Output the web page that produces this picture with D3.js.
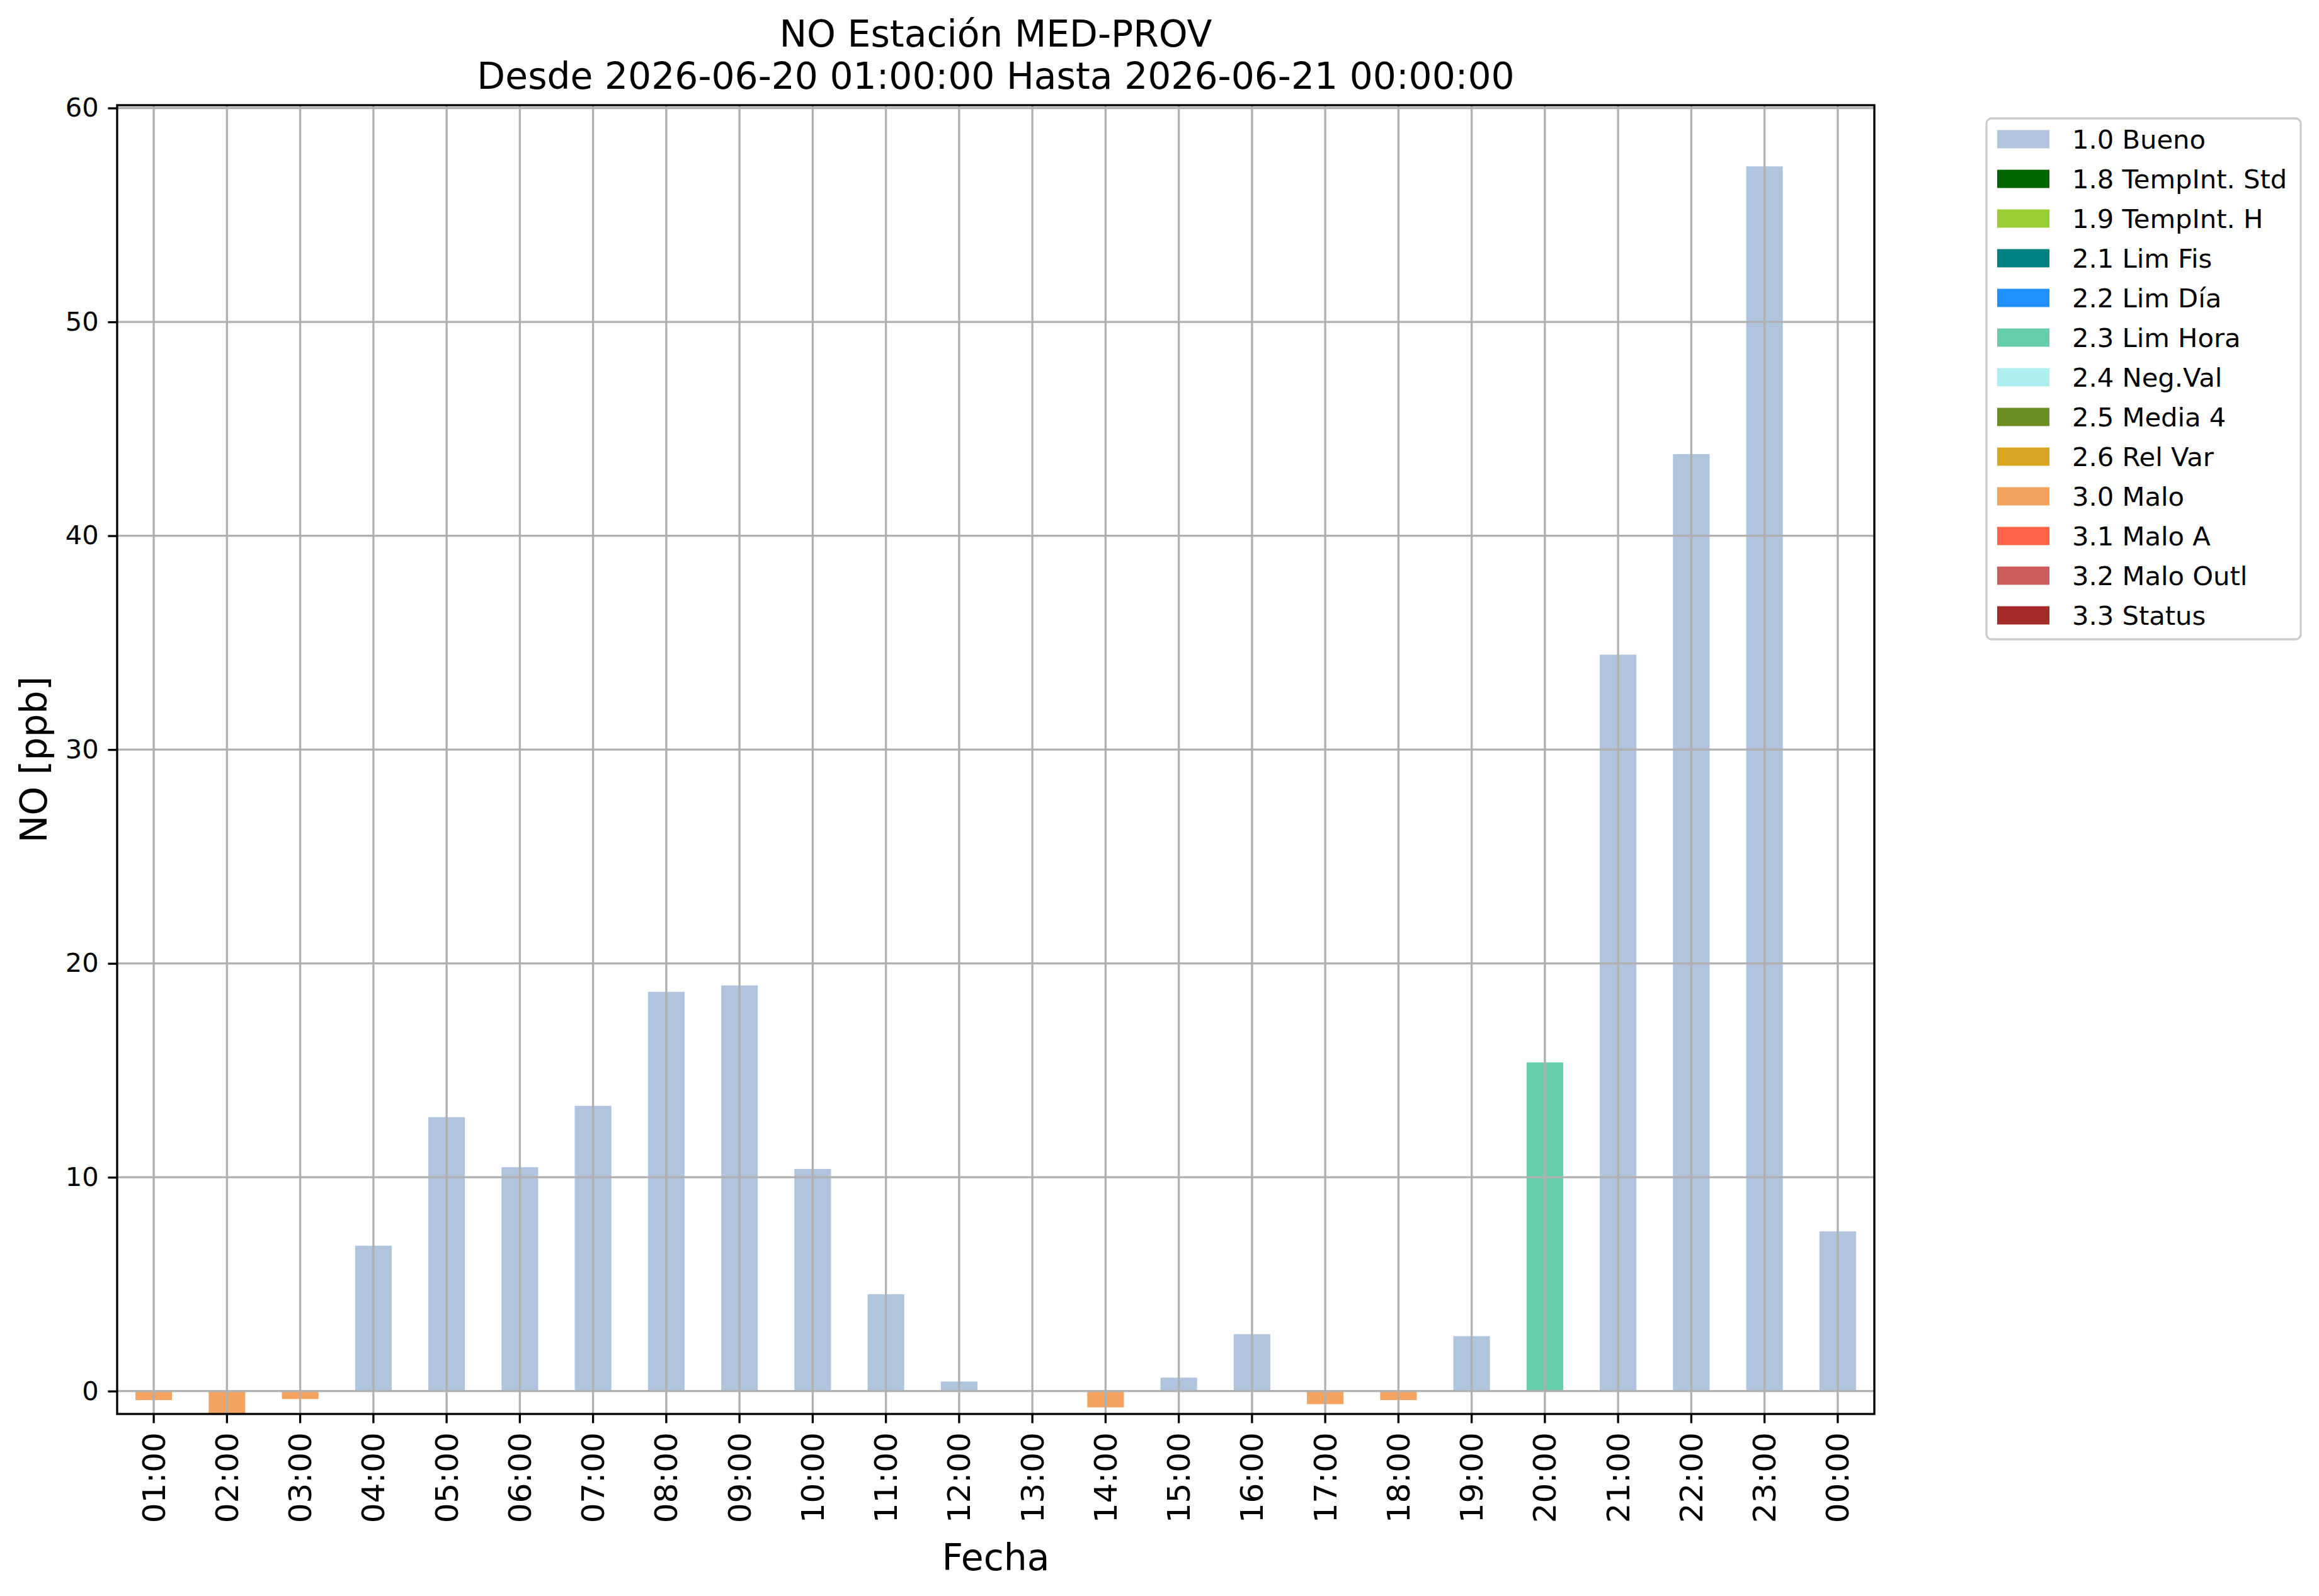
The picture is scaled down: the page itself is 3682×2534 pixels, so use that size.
<!DOCTYPE html>
<html>
<head>
<meta charset="utf-8">
<script src="https://cdn.jsdelivr.net/npm/d3@7"></script>
<style>
  body { margin: 0; background: #fff; }
  text { font-family: "DejaVu Sans", sans-serif; }
</style>
</head>
<body>
<div id="chart"></div>
<script>
// Hours on the x axis
const hours = ["01:00", "02:00", "03:00", "04:00", "05:00", "06:00", "07:00", "08:00",
               "09:00", "10:00", "11:00", "12:00", "13:00", "14:00", "15:00", "16:00",
               "17:00", "18:00", "19:00", "20:00", "21:00", "22:00", "23:00", "00:00"];

// NO values [ppb] (13:00 has no bar)
const values = [-0.42, -1.07, -0.37, 6.80, 12.81, 10.47, 13.34, 18.67,
                18.97, 10.39, 4.53, 0.45, null, -0.76, 0.63, 2.66,
                -0.61, -0.42, 2.57, 15.37, 34.44, 43.82, 57.27, 7.47];

// Quality flag of each hour
const flags = ["3.0", "3.0", "3.0", "1.0", "1.0", "1.0", "1.0", "1.0",
               "1.0", "1.0", "1.0", "1.0", null, "3.0", "1.0", "1.0",
               "3.0", "3.0", "1.0", "2.3", "1.0", "1.0", "1.0", "1.0"];

// Legend: flag codes, names and colours
const flagCodes = ["1.0", "1.8", "1.9", "2.1", "2.2", "2.3", "2.4", "2.5", "2.6", "3.0", "3.1", "3.2", "3.3"];
const flagNames = ["Bueno", "TempInt. Std", "TempInt. H", "Lim Fis", "Lim Día", "Lim Hora",
                   "Neg.Val", "Media 4", "Rel Var", "Malo", "Malo A", "Malo Outl", "Status"];
const flagColors = ["lightsteelblue", "darkgreen", "yellowgreen", "teal", "dodgerblue",
                    "mediumaquamarine", "paleturquoise", "olivedrab", "goldenrod",
                    "sandybrown", "tomato", "indianred", "brown"];

const yTicks = [0, 10, 20, 30, 40, 50, 60];

const width = 3682, height = 2534;
const margin = { top: 167, right: 706, bottom: 289, left: 186 };
const plotLeft = margin.left, plotRight = width - margin.right;
const plotTop = margin.top, plotBottom = height - margin.bottom;

const pt = 300 / 72;      // one point in pixels
const lw = 0.8 * pt;      // line width
const tickLen = 3.5 * pt;

const barData = hours.map((h, i) => ({ hour: h, value: values[i], flag: flags[i] }))
    .filter(d => d.value !== null);

const svg = d3.select("#chart").append("svg")
    .attr("width", width)
    .attr("height", height);

// Scales
const x = d3.scaleBand()
    .domain(hours)
    .range([plotLeft, plotRight])
    .paddingInner(0.5)
    .paddingOuter(0.25);

const y = d3.scaleLinear()
    .domain([d3.min(values), d3.max(values) * 1.05])
    .range([plotBottom, plotTop]);

const color = d3.scaleOrdinal()
    .domain(flagCodes)
    .range(flagColors);

// Bars
svg.append("g")
    .selectAll("rect")
    .data(barData)
    .enter()
    .append("rect")
    .attr("x", d => x(d.hour))
    .attr("y", d => y(Math.max(0, d.value)))
    .attr("width", x.bandwidth())
    .attr("height", d => Math.abs(y(d.value) - y(0)))
    .attr("fill", d => color(d.flag));

// Grid (drawn above bars, like the original)
const grid = svg.append("g")
    .attr("stroke", "#b0b0b0")
    .attr("stroke-width", lw);

grid.selectAll("line.v")
    .data(hours)
    .enter()
    .append("line")
    .attr("x1", d => x(d) + x.bandwidth() / 2)
    .attr("x2", d => x(d) + x.bandwidth() / 2)
    .attr("y1", plotTop)
    .attr("y2", plotBottom);

grid.selectAll("line.h")
    .data(yTicks)
    .enter()
    .append("line")
    .attr("x1", plotLeft)
    .attr("x2", plotRight)
    .attr("y1", d => y(d))
    .attr("y2", d => y(d));

// X-axis
const xAxis = svg.append("g")
    .attr("transform", `translate(0,${plotBottom})`)
    .call(d3.axisBottom(x).tickSize(tickLen).tickPadding(tickLen));

xAxis.select(".domain").remove();
xAxis.selectAll(".tick line")
    .attr("stroke", "#000")
    .attr("stroke-width", lw);
xAxis.selectAll(".tick text")
    .attr("transform", "rotate(-90)")
    .attr("x", -(tickLen * 2))
    .attr("y", 0)
    .attr("dy", "0.35em")
    .attr("text-anchor", "end")
    .style("font-family", "DejaVu Sans")
    .style("font-size", (12 * pt) + "px")
    .attr("fill", "#000");

// Y-axis
const yAxis = svg.append("g")
    .attr("transform", `translate(${plotLeft},0)`)
    .call(d3.axisLeft(y).tickValues(yTicks).tickSize(tickLen).tickPadding(tickLen));

yAxis.select(".domain").remove();
yAxis.selectAll(".tick line")
    .attr("stroke", "#000")
    .attr("stroke-width", lw);
yAxis.selectAll(".tick text")
    .style("font-family", "DejaVu Sans")
    .style("font-size", (10 * pt) + "px")
    .attr("fill", "#000");

// Axes frame
svg.append("rect")
    .attr("x", plotLeft)
    .attr("y", plotTop)
    .attr("width", plotRight - plotLeft)
    .attr("height", plotBottom - plotTop)
    .attr("fill", "none")
    .attr("stroke", "#000")
    .attr("stroke-width", lw);

// Title
const cx = (plotLeft + plotRight) / 2;
svg.append("text")
    .attr("x", cx)
    .attr("y", 74)
    .attr("text-anchor", "middle")
    .style("font-size", (14 * pt) + "px")
    .text("NO Estación MED-PROV");

svg.append("text")
    .attr("x", cx)
    .attr("y", 141)
    .attr("text-anchor", "middle")
    .style("font-size", (14 * pt) + "px")
    .text("Desde 2026-06-20 01:00:00 Hasta 2026-06-21 00:00:00");

// X-axis label
svg.append("text")
    .attr("x", cx)
    .attr("y", 2493)
    .attr("text-anchor", "middle")
    .style("font-size", (14 * pt) + "px")
    .text("Fecha");

// Y-axis label
svg.append("text")
    .attr("transform", "rotate(-90)")
    .attr("x", -(plotTop + plotBottom) / 2)
    .attr("y", 74)
    .attr("text-anchor", "middle")
    .style("font-size", (14 * pt) + "px")
    .text("NO [ppb]");

// Legend
const legendG = svg.append("g")
    .attr("transform", "translate(3154,188)");

legendG.append("rect")
    .attr("width", 499)
    .attr("height", 827)
    .attr("rx", 8)
    .attr("fill", "#fff")
    .attr("fill-opacity", 0.8)
    .attr("stroke", "#cccccc")
    .attr("stroke-width", lw);

const legend = legendG.selectAll(".legend")
    .data(flagCodes)
    .enter()
    .append("g")
    .attr("transform", (d, i) => `translate(0,${33 + i * 63})`);

legend.append("rect")
    .attr("x", 17)
    .attr("y", -14.5)
    .attr("width", 83)
    .attr("height", 29)
    .attr("fill", d => color(d));

legend.append("text")
    .attr("x", 136)
    .attr("y", 0)
    .attr("dy", "0.36em")
    .style("font-size", (10 * pt) + "px")
    .text((d, i) => `${d} ${flagNames[i]}`);
</script>
</body>
</html>
